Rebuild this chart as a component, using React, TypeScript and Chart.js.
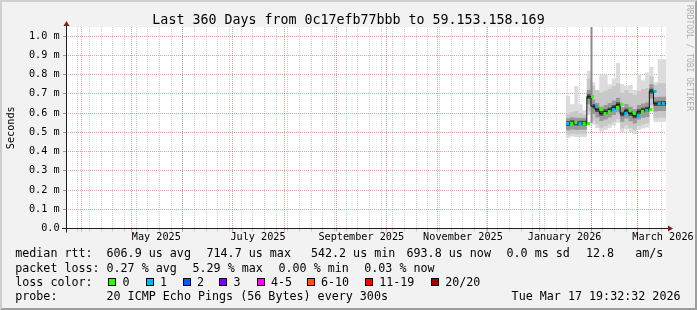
import React, { useEffect, useRef } from 'react';
import { Chart, registerables } from 'chart.js';

Chart.register(...registerables);

const FONT = '"DejaVu Sans Mono", monospace';
const W = 697;
const H = 310;

// ---------- text ----------
const titleText = 'Last 360 Days from 0c17efb77bbb to 59.153.158.169';
const yAxisTitle = 'Seconds';
const watermark = 'RRDTOOL / TOBI OETIKER';

// ---------- time axis ----------
const startMs = Date.UTC(2025, 2, 22, 19, 32, 32);
const spanDays = 360;
const monthLineDates = [
  '2025-04-01', '2025-05-01', '2025-06-01', '2025-07-01', '2025-08-01', '2025-09-01',
  '2025-10-01', '2025-11-01', '2025-12-01', '2026-01-01', '2026-02-01', '2026-03-01',
];
const monthLabelDates = ['2025-05-16', '2025-07-16', '2025-09-16', '2025-11-16', '2026-01-16', '2026-03-16'];
const monthLabels = ['May 2025', 'July 2025', 'September 2025', 'November 2025', 'January 2026', 'March 2026'];
const firstSunday = '2025-03-23';

// ---------- value axis (ms) ----------
const yTickValues = [0, 0.1, 0.2, 0.3, 0.4, 0.5, 0.6, 0.7, 0.8, 0.9, 1.0];
const yMax = 1.047;

// ---------- data: 2.5-day bins, days since start ----------
const binDays = [300, 302.5, 305, 307.5, 310, 312.5, 315, 317.5, 320, 322.5, 325, 327.5, 330, 332.5, 335, 337.5, 340, 342.5, 345, 347.5, 350, 352.5, 355, 357.5, 360];
const medianMs = [0.547, 0.545, 0.550, 0.547, 0.548, 0.548, 0.685, 0.635, 0.617, 0.598, 0.607, 0.617, 0.630, 0.644, 0.595, 0.612, 0.597, 0.585, 0.607, 0.615, 0.620, 0.714, 0.648, 0.650, 0.650];
const lossCount = [1, 0, 0, 1, 0, 0, 0, 1, 0, 0, 0, 1, 0, 0, 1, 0, 0, 1, 0, 1, 0, 1, 1, 1, 0];
const lightHi = [0.95, 0.69, 0.645, 0.74, 0.645, 0.615, 0.82, 0.76, 0.72, 0.80, 0.80, 0.75, 0.78, 0.86, 0.75, 0.74, 0.745, 0.72, 0.80, 0.77, 0.81, 0.84, 0.76, 0.88, 0.88];
const midHi = [0.600, 0.598, 0.605, 0.610, 0.600, 0.592, 0.780, 0.740, 0.720, 0.705, 0.715, 0.725, 0.740, 0.755, 0.705, 0.720, 0.705, 0.695, 0.715, 0.725, 0.730, 0.790, 0.745, 0.755, 0.755];
const darkHi = [0.575, 0.573, 0.578, 0.575, 0.576, 0.576, 0.720, 0.670, 0.652, 0.633, 0.642, 0.652, 0.665, 0.679, 0.630, 0.647, 0.632, 0.620, 0.642, 0.650, 0.655, 0.749, 0.683, 0.685, 0.685];
const coreHi = [0.559, 0.557, 0.562, 0.559, 0.560, 0.560, 0.697, 0.647, 0.629, 0.610, 0.619, 0.629, 0.642, 0.656, 0.607, 0.624, 0.609, 0.597, 0.619, 0.627, 0.632, 0.726, 0.660, 0.662, 0.662];
const coreLo = [0.535, 0.533, 0.538, 0.535, 0.536, 0.536, 0.673, 0.623, 0.605, 0.586, 0.595, 0.605, 0.618, 0.632, 0.583, 0.600, 0.585, 0.573, 0.595, 0.603, 0.608, 0.702, 0.636, 0.638, 0.638];
const darkLo = [0.512, 0.510, 0.515, 0.512, 0.513, 0.513, 0.645, 0.595, 0.577, 0.558, 0.567, 0.577, 0.590, 0.604, 0.555, 0.572, 0.557, 0.545, 0.567, 0.575, 0.580, 0.674, 0.608, 0.610, 0.610];
const midLo = [0.490, 0.488, 0.492, 0.490, 0.491, 0.490, 0.610, 0.560, 0.542, 0.523, 0.532, 0.542, 0.555, 0.569, 0.520, 0.537, 0.522, 0.510, 0.532, 0.540, 0.545, 0.639, 0.573, 0.575, 0.575];
const lightLo = [0.475, 0.472, 0.478, 0.474, 0.476, 0.475, 0.590, 0.540, 0.522, 0.503, 0.512, 0.522, 0.535, 0.549, 0.500, 0.517, 0.502, 0.490, 0.512, 0.520, 0.525, 0.619, 0.553, 0.555, 0.555];
const spikeDays = [315.3, 315.3];
const spikeMs = [0.548, 1.06];

// ---------- legend ----------
const medianStats = ['median rtt:', '606.9 us avg', '714.7 us max', '542.2 us min', '693.8 us now', '0.0 ms sd', '12.8', 'am/s'];
const lossStats = ['packet loss:', '0.27 % avg', '5.29 % max', '0.00 % min', '0.03 % now'];
const lossLabel = 'loss color:';
const lossLegend = ['0', '1', '2', '3', '4-5', '6-10', '11-19', '20/20'];
const lossColors = ['#26ff00', '#00b8ff', '#0059ff', '#7e00ff', '#ff00ff', '#ff5500', '#ff0000', '#a10000'];
const probeLine = ['probe:', '20 ICMP Echo Pings (56 Bytes) every 300s'];
const dateText = 'Tue Mar 17 19:32:32 2026';

const MAJOR = 'rgba(222,79,79,0.55)';
const MINOR = 'rgba(160,160,160,0.5)';

const dayOf = (s: string) => (Date.parse(s + 'T00:00:00Z') - startMs) / 86400000;

function lossIndex(n: number) {
  if (n <= 0) return 0;
  if (n === 1) return 1;
  if (n === 2) return 2;
  if (n === 3) return 3;
  if (n <= 5) return 4;
  if (n <= 10) return 5;
  if (n <= 19) return 6;
  return 7;
}

function buildXTicks() {
  const ticks: any[] = [];
  let d = dayOf(firstSunday);
  while (d < spanDays) {
    ticks.push({ value: d, kind: 'minor', text: '' });
    d += 7;
  }
  monthLineDates.forEach((s) => ticks.push({ value: dayOf(s), kind: 'major', text: '' }));
  monthLabelDates.forEach((s, i) => ticks.push({ value: dayOf(s), kind: 'label', text: monthLabels[i] }));
  ticks.sort((a, b) => a.value - b.value);
  return ticks;
}

const series = (ys: number[]) => binDays.map((x, i) => ({ x, y: ys[i] }));

const rrdPlugin = {
  id: 'rrdDecor',
  beforeDraw(chart: any) {
    const { ctx, chartArea: ca } = chart;
    ctx.save();
    ctx.fillStyle = '#f2f2f2';
    ctx.fillRect(0, 0, W, H);
    ctx.fillStyle = '#cfcfcf';
    ctx.beginPath();
    ctx.moveTo(0, H); ctx.lineTo(2, H - 2); ctx.lineTo(2, 2); ctx.lineTo(W - 2, 2); ctx.lineTo(W, 0); ctx.lineTo(0, 0);
    ctx.closePath(); ctx.fill();
    ctx.fillStyle = '#9e9e9e';
    ctx.beginPath();
    ctx.moveTo(2, H - 2); ctx.lineTo(W - 2, H - 2); ctx.lineTo(W - 2, 2); ctx.lineTo(W, 0); ctx.lineTo(W, H); ctx.lineTo(0, H);
    ctx.closePath(); ctx.fill();
    ctx.fillStyle = '#ffffff';
    ctx.fillRect(ca.left, ca.top, ca.right - ca.left, ca.bottom - ca.top);
    ctx.restore();
  },
  afterDraw(chart: any) {
    const { ctx, chartArea: ca } = chart;
    const xo = ca.left;
    const yo = ca.bottom;
    const xe = ca.right;
    const yt = ca.top;
    ctx.save();
    // axes
    ctx.strokeStyle = '#1f1f1f';
    ctx.lineWidth = 1;
    ctx.beginPath();
    ctx.moveTo(xo - 4, Math.floor(yo) + 0.5);
    ctx.lineTo(xe + 4, Math.floor(yo) + 0.5);
    ctx.moveTo(xo + 0.5, yo + 4);
    ctx.lineTo(xo + 0.5, yt - 4);
    ctx.stroke();
    // arrows
    ctx.fillStyle = '#801f1f';
    ctx.beginPath();
    ctx.moveTo(xe + 2, yo - 3); ctx.lineTo(xe + 2, yo + 3); ctx.lineTo(xe + 7, yo); ctx.closePath(); ctx.fill();
    ctx.beginPath();
    ctx.moveTo(xo + 0.5 - 3, yt - 1); ctx.lineTo(xo + 0.5 + 3, yt - 1); ctx.lineTo(xo + 0.5, yt - 6); ctx.closePath(); ctx.fill();

    // watermark
    ctx.save();
    ctx.translate(693, 5);
    ctx.rotate(Math.PI / 2);
    ctx.font = '8px ' + FONT;
    ctx.fillStyle = 'rgba(0,0,0,0.3)';
    ctx.textBaseline = 'top';
    ctx.textAlign = 'left';
    ctx.fillText(watermark, 0, 0);
    ctx.restore();

    // legend
    ctx.font = '11.7px ' + FONT;
    ctx.fillStyle = '#000';
    ctx.textBaseline = 'alphabetic';
    ctx.textAlign = 'left';
    const base = [257.4, 271.7, 286, 300.2];
    const l1 = [16, 107.3, 207.3, 311.7, 407.3, 507.3, 586.7, 636];
    medianStats.forEach((t, i) => ctx.fillText(t, l1[i] - 0.8, base[0]));
    const l2 = [16, 107.3, 193.3, 279.3, 365];
    lossStats.forEach((t, i) => ctx.fillText(t, l2[i] - 0.8, base[1]));
    ctx.fillText(lossLabel, 15.2, base[2]);
    const bx = [108.3, 145.7, 182.7, 219.3, 256.7, 306.7, 365, 431];
    lossLegend.forEach((t, i) => {
      const x = Math.round(bx[i]);
      ctx.fillStyle = lossColors[i];
      ctx.fillRect(x, 278, 8, 8);
      ctx.strokeStyle = '#000';
      ctx.lineWidth = 1;
      ctx.strokeRect(x + 0.5, 278.5, 7, 7);
      ctx.fillStyle = '#000';
      ctx.fillText(t, bx[i] + 14.2, base[2]);
    });
    ctx.fillText(probeLine[0], 15.2, base[3]);
    ctx.fillText(probeLine[1], 106.5, base[3]);
    ctx.textAlign = 'right';
    ctx.fillText(dateText, 680.5, base[3]);
    ctx.restore();
  },
};

export default function App() {
  const ref = useRef<HTMLCanvasElement | null>(null);

  useEffect(() => {
    const canvas = ref.current;
    if (!canvas) return;

    const markers = lossColors.map((c) => {
      const cv = document.createElement('canvas');
      cv.width = 8;
      cv.height = 3;
      const g = cv.getContext('2d')!;
      g.fillStyle = c;
      g.fillRect(4, 0, 3, 3);
      return cv;
    });

    const band = (lo: number[], hi: number[], color: string, order: number) => [
      { data: series(lo), borderWidth: 0, pointRadius: 0, fill: false, stepped: 'after', order },
      { data: series(hi), borderWidth: 0, pointRadius: 0, fill: '-1', backgroundColor: color, stepped: 'after', order },
    ];

    const xTicks = buildXTicks();
    const n = binDays.length;

    const chart = new Chart(canvas, {
      type: 'line',
      data: {
        datasets: [
          {
            data: series(medianMs),
            borderColor: '#151515',
            borderWidth: 1,
            stepped: 'after',
            fill: false,
            order: 0,
            pointStyle: (c: any) => markers[lossIndex(lossCount[c.dataIndex] ?? 0)],
            pointRadius: (c: any) => (c.dataIndex < n - 1 ? 2 : 0),
            pointHoverRadius: 0,
          },
          {
            data: spikeDays.map((x, i) => ({ x, y: spikeMs[i] })),
            borderColor: '#8c8c8c',
            borderWidth: 2,
            pointRadius: 0,
            fill: false,
            order: 1,
            clip: 0,
          },
          ...band(coreLo, coreHi, '#4e4e4e', 2),
          ...band(darkLo, darkHi, '#9a9a9a', 3),
          ...band(midLo, midHi, '#c8c8c8', 4),
          ...band(lightLo, lightHi, '#dcdcdc', 5),
        ] as any,
      },
      options: {
        responsive: false,
        animation: false,
        devicePixelRatio: 1,
        events: [],
        layout: { padding: { left: 0, right: 0, top: 0, bottom: 61.5 } },
        elements: { line: { tension: 0 } },
        plugins: {
          legend: { display: false },
          tooltip: { enabled: false },
          title: {
            display: true,
            text: titleText,
            color: '#000',
            font: { family: FONT, size: 13.3, weight: 'normal', lineHeight: 1 },
            padding: { top: 13.5, bottom: 0.2 },
          },
        },
        scales: {
          x: {
            type: 'linear',
            min: 0,
            max: spanDays,
            position: 'bottom',
            afterBuildTicks: (s: any) => {
              s.ticks = xTicks.map((t) => ({ ...t }));
            },
            afterFit: (s: any) => {
              s.height = 20;
            },
            ticks: {
              autoSkip: false,
              maxRotation: 0,
              minRotation: 0,
              padding: 0,
              color: '#000',
              font: { family: FONT, size: 10.2 },
              callback: (v: any, i: number, ticks: any[]) => (ticks[i] && ticks[i].text) || '',
            },
            grid: {
              lineWidth: 1,
              tickLength: 3,
              color: (c: any) => (c.tick ? (c.tick.kind === 'major' ? MAJOR : c.tick.kind === 'minor' ? MINOR : 'rgba(0,0,0,0)') : 'rgba(0,0,0,0)'),
              tickColor: (c: any) => (c.tick ? (c.tick.kind === 'major' ? MAJOR : c.tick.kind === 'minor' ? MINOR : 'rgba(0,0,0,0)') : 'rgba(0,0,0,0)'),
            },
            border: { display: false, dash: [1, 1] },
          },
          y: {
            type: 'linear',
            min: 0,
            max: yMax,
            position: 'left',
            afterBuildTicks: (s: any) => {
              s.ticks = yTickValues.map((v) => ({ value: v }));
            },
            afterFit: (s: any) => {
              s.width = 66;
            },
            ticks: {
              padding: 3.4,
              color: '#000',
              font: { family: FONT, size: 10.2 },
              callback: (v: any) => (v === 0 ? '0.0' : Number(v).toFixed(1) + ' m'),
            },
            title: {
              display: true,
              text: yAxisTitle,
              color: '#000',
              font: { family: FONT, size: 10.2 },
              padding: { top: 5.4, bottom: 0 },
            },
            grid: {
              lineWidth: 1,
              tickLength: 3,
              color: (c: any) => (c.tick && c.tick.value === 0 ? 'rgba(0,0,0,0)' : MAJOR),
              tickColor: (c: any) => (c.tick && c.tick.value === 0 ? '#000' : '#9a9a9a'),
            },
            border: { display: false, dash: [1, 1] },
          },
          yR: {
            type: 'linear',
            position: 'right',
            display: true,
            min: 0,
            max: 1,
            ticks: { display: false },
            grid: { display: false, drawTicks: false },
            border: { display: false },
            afterFit: (s: any) => {
              s.width = 31;
            },
          },
        },
      } as any,
      plugins: [rrdPlugin],
    });

    return () => chart.destroy();
  }, []);

  return (
    <div style={{ position: 'absolute', left: 0, top: 0, width: W, height: H }}>
      <canvas ref={ref} width={W} height={H} style={{ display: 'block', width: W, height: H }} />
    </div>
  );
}
